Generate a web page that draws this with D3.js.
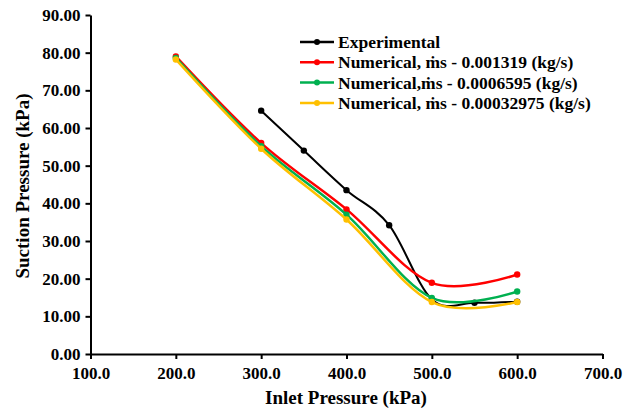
<!DOCTYPE html>
<html><head><meta charset="utf-8">
<script src="https://cdn.jsdelivr.net/npm/d3@7"></script>
<style>body{margin:0;background:#fff}svg{display:block}text{font-family:"Liberation Serif","Times New Roman",serif;font-weight:bold}</style>
</head><body><svg id="c" width="634" height="410"></svg>
<script>
const xTicks = [100, 200, 300, 400, 500, 600, 700];
const yTicks = [0, 10, 20, 30, 40, 50, 60, 70, 80, 90];
const expX = [300, 350, 400, 450, 500, 550, 600];
const expY = [64.6, 54.0, 43.5, 34.2, 14.5, 13.6, 13.9];
const numX = [200, 300, 400, 500, 600];
const red = [79.0, 56.0, 38.4, 18.9, 21.1];
const green = [78.6, 55.2, 37.0, 14.9, 16.6];
const yellow = [78.2, 54.5, 35.7, 13.8, 13.8];
const seriesNames = ["Experimental", "Numerical, ṁs - 0.001319 (kg/s)", "Numerical,ṁs - 0.0006595 (kg/s)", "Numerical, ṁs - 0.00032975 (kg/s)"];
const colors = ["#000000", "#FF0000", "#00B050", "#FFC000"];

const series = [
  {name: seriesNames[0], xs: expX, ys: expY, color: colors[0], w: 2},
  {name: seriesNames[1], xs: numX, ys: red, color: colors[1], w: 2.5},
  {name: seriesNames[2], xs: numX, ys: green, color: colors[2], w: 2.5},
  {name: seriesNames[3], xs: numX, ys: yellow, color: colors[3], w: 2.5}
];

const svg = d3.select("#c");
const x = d3.scaleLinear().domain([100, 700]).range([90.5, 602.5]);
const y = d3.scaleLinear().domain([0, 90]).range([354, 15]);

const xa = svg.append("g").attr("transform", "translate(0,354)")
  .call(d3.axisBottom(x).tickValues(xTicks).tickFormat(d3.format(".1f")).tickSizeInner(5).tickSizeOuter(0));
const ya = svg.append("g").attr("transform", "translate(90.5,0)")
  .call(d3.axisLeft(y).tickValues(yTicks).tickFormat(d3.format(".2f")).tickSizeInner(5).tickSizeOuter(0));
[xa, ya].forEach(a => {
  a.select(".domain").attr("stroke", "#000").attr("stroke-width", 2);
  a.selectAll(".tick line").attr("stroke", "#000").attr("stroke-width", 2);
  a.selectAll(".tick text").attr("fill", "#000").attr("font-size", 17)
    .attr("font-family", "Liberation Serif").attr("font-weight", "bold");
});
xa.selectAll(".tick text").attr("y", 9).attr("dy", "0.95em");
ya.selectAll(".tick text").attr("x", -10);

svg.append("text").attr("x", 346).attr("y", 404).attr("text-anchor", "middle")
  .attr("font-size", 19).text("Inlet Pressure (kPa)");
svg.append("text").attr("transform", "translate(29,186) rotate(-90)").attr("text-anchor", "middle")
  .attr("font-size", 19).text("Suction Pressure (kPa)");

const line = d3.line().curve(d3.curveCardinal.tension(0)).x(d => x(d[0])).y(d => y(d[1]));
series.forEach(s => {
  const pts = s.xs.map((v, i) => [v, s.ys[i]]);
  svg.append("path").datum(pts).attr("d", line).attr("fill", "none")
    .attr("stroke", s.color).attr("stroke-width", s.w);
  svg.selectAll(null).data(pts).enter().append("circle")
    .attr("cx", d => x(d[0])).attr("cy", d => y(d[1])).attr("r", 3.2).attr("fill", s.color);
});

const lg = svg.append("g");
series.forEach((s, i) => {
  const yy = 42 + i * 20.3;
  lg.append("line").attr("x1", 300).attr("x2", 334).attr("y1", yy).attr("y2", yy)
    .attr("stroke", s.color).attr("stroke-width", 2.5);
  lg.append("circle").attr("cx", 317).attr("cy", yy).attr("r", 3).attr("fill", s.color);
  lg.append("text").attr("x", 338).attr("y", yy + 6).attr("font-size", 17.5).text(s.name);
});
</script></body></html>
